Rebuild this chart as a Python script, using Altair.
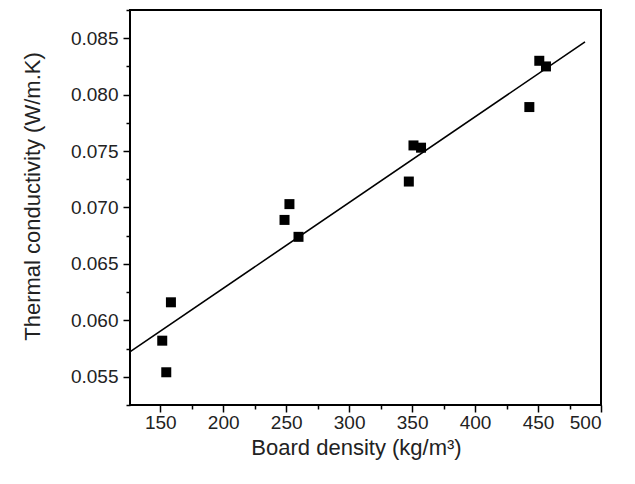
import altair as alt
import pandas as pd

# data
density = [151.6, 154.8, 158.5, 248.7, 252.6, 259.8, 347.4, 351.1, 357.1, 443.1, 451.0, 456.3]
conductivity = [0.0582, 0.0554, 0.0616, 0.0689, 0.0703, 0.0674, 0.0723, 0.0755, 0.0753, 0.0789, 0.0830, 0.0825]
fit_x = [126.2, 487.3]
fit_y = [0.05723, 0.08467]

x_ticks = list(range(150, 501, 25))
y_ticks = [round(0.0525 + 0.0025 * i, 4) for i in range(15)]

pts = pd.DataFrame({"density": density, "k": conductivity})
fit = pd.DataFrame({"density": fit_x, "k": fit_y})

FONT = "Liberation Sans"

x_enc = alt.X(
    "density:Q",
    scale=alt.Scale(domain=[126, 500], nice=False, zero=False),
    axis=alt.Axis(
        title="Board density (kg/m³)",
        values=x_ticks,
        labelExpr="datum.value % 50 == 0 ? datum.label : ''",
        tickSize={"condition": {"test": "datum.value % 50 == 0", "value": 7}, "value": 4},
        labelPadding=1,
        titleX=226,
        titleY=42,
        titleBaseline="middle",
        titleAlign="center",
    ),
)
y_enc = alt.Y(
    "k:Q",
    scale=alt.Scale(domain=[0.0525, 0.0875], nice=False, zero=False),
    axis=alt.Axis(
        title="Thermal conductivity (W/m.K)",
        values=y_ticks,
        format=".3f",
        labelExpr="round(datum.value * 2000) % 10 == 0 ? datum.label : ''",
        tickSize={"condition": {"test": "round(datum.value * 2000) % 10 == 0", "value": 7}, "value": 4},
        labelPadding=5,
        titleX=-98,
        titleY=186,
        titleBaseline="middle",
        titleAlign="center",
        titleAngle=-90,
    ),
)

points = alt.Chart(pts).mark_square(size=100, color="black", opacity=1).encode(x=x_enc, y=y_enc)
line = alt.Chart(fit).mark_line(color="black", strokeWidth=1.6).encode(x=x_enc, y=y_enc)

chart = (
    alt.layer(line, points)
    .properties(
        width=471,
        height=395,
        autosize=alt.AutoSizeParams(type="none"),
        padding={"left": 122, "top": 2, "right": 20, "bottom": 60},
        background="white",
    )
    .configure_view(stroke="black", strokeWidth=2)
    .configure_axis(
        domain=False,
        grid=False,
        tickColor="black",
        tickWidth=1.5,
        labelFont=FONT,
        labelFontSize=19,
        labelColor="#222",
        titleFont=FONT,
        titleFontSize=22,
        titleFontWeight="normal",
        titleColor="#222",
    )
)

chart.save("out.html", embed_options={"renderer": "svg", "actions": False})
